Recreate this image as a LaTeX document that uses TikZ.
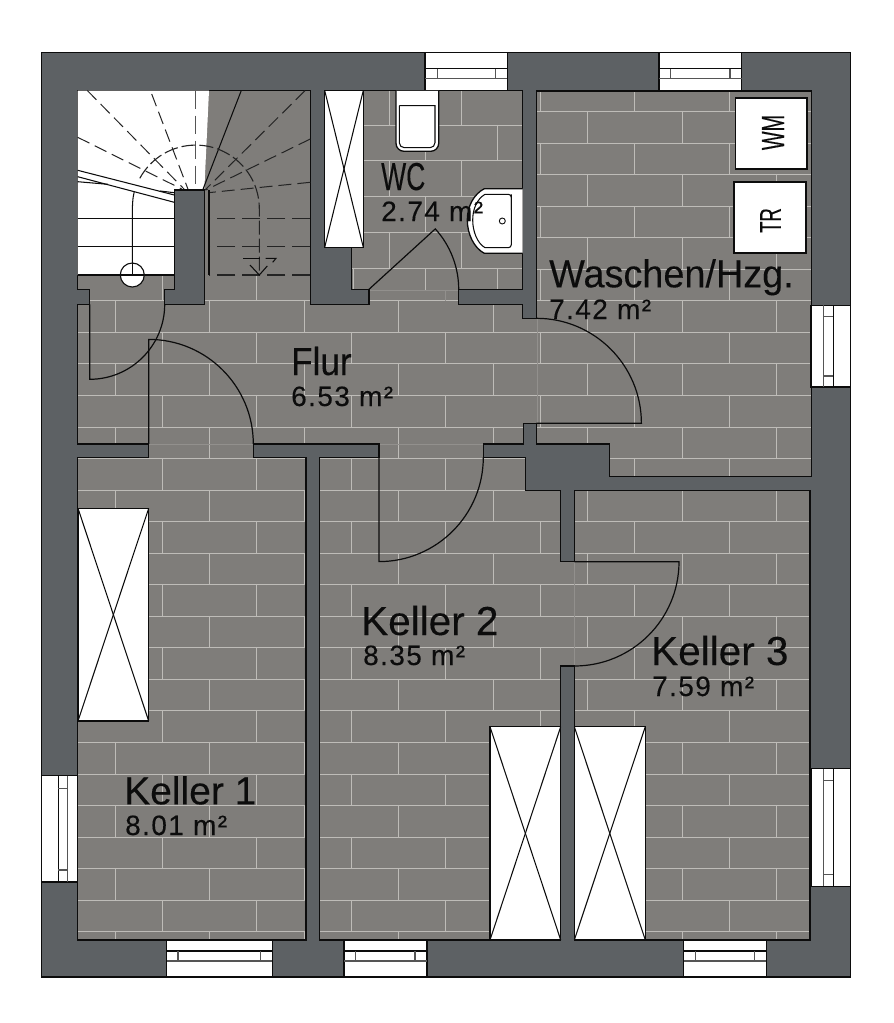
\documentclass[tikz,border=0pt]{standalone}
\usepackage{fontspec}
\setmainfont[FakeBold=0.15]{Liberation Sans}
\newfontfamily\areafont[LetterSpace=5,FakeBold=0.1]{Liberation Sans}
\definecolor{floorc}{RGB}{127,125,122}
\definecolor{wallc}{RGB}{93,97,100}
\definecolor{groutc}{RGB}{190,188,184}
\definecolor{faintc}{RGB}{146,144,141}
\definecolor{inkc}{RGB}{12,12,12}
\tikzset{
  wallpen/.style={draw=inkc,line width=1.3pt,fill=wallc},
  grout/.style={draw=groutc,line width=0.9pt},
  faint/.style={draw=faintc,line width=0.8pt},
  whitebox/.style={draw=inkc,line width=1.3pt,fill=white},
  thinline/.style={draw=inkc,line width=1.05pt},
  winline/.style={draw=inkc!70!white,line width=1.1pt},
  dashr/.style={draw=inkc!90!white,line width=1pt,dash pattern=on 13pt off 6pt},
  dashh/.style={draw=inkc!90!white,line width=1.1pt,dash pattern=on 18pt off 7pt},
  doorline/.style={draw=inkc,line width=1.2pt},
  roomname/.style={anchor=base west,inner sep=0pt,font=\fontsize{39}{39}\selectfont,text=inkc},
  roomnamebig/.style={roomname,font=\fontsize{40.5}{40}\selectfont},
  roomarea/.style={anchor=base west,inner sep=0pt,font=\areafont\fontsize{28}{28}\selectfont,text=inkc},
}
\begin{document}
\begin{tikzpicture}[x=1pt,y=-1pt]
\useasboundingbox (0,0) rectangle (894,1023);
% floor
\fill[floorc] (41.5,52.5) rectangle (850.5,977);
% global bricks
\begin{scope}
\clip (41.5,52.5) rectangle (850.5,977);
\foreach \k in {-8,...,20}{
  \pgfmathsetmacro{\ya}{332.3+31.55*\k}
  \pgfmathsetmacro{\yb}{\ya+31.55}
  \draw[grout] (41.5,\ya) -- (850.5,\ya);
  \pgfmathsetmacro{\off}{iseven(\k)?162.3:115.3}
  \foreach \n in {-1,...,8}{
    \pgfmathsetmacro{\xa}{\off+94.5*\n}
    \draw[grout] (\xa,\ya) -- (\xa,\yb);
  }
}
\end{scope}
% stair room without bricks
\fill[floorc] (77,90) rectangle (311,275);
% WC with its own bricks
\fill[floorc] (324,90) rectangle (523.5,300);
\foreach \y in {125,160.7,196.7,232.3,268.3}{\draw[grout] (324,\y) -- (523,\y);}
\foreach \x in {389.3,461.7}{\draw[grout] (\x,91) -- (\x,125);\draw[grout] (\x,160.7) -- (\x,196.7);\draw[grout] (\x,232.3) -- (\x,268.3);}
\foreach \x in {425.5,497.3}{\draw[grout] (\x,125) -- (\x,160.7);\draw[grout] (\x,196.7) -- (\x,232.3);\draw[grout] (\x,268.3) -- (\x,290);}
\draw[grout] (353.3,268.3) -- (353.3,290);
\draw[faint] (369,290) -- (459,290);
\draw[faint] (445.7,290) -- (445.7,300.7);
% faint lines in door openings
\draw[faint] (537,318.3) -- (537,423.3);
\draw[faint] (148.7,444.5) -- (253.3,444.5);
\draw[faint] (379,444.5) -- (483.3,444.5);
\draw[faint] (574.3,561.7) -- (574.3,665);
% walls
\path[wallpen,even odd rule]
  (41.5,52.5) rectangle (850.5,977)
  (77.7,90.5) -- (310.3,90.5) -- (310.3,304.3) -- (369,304.3) -- (369,289.3) -- (351.3,289.3) -- (351.3,247.3)
  -- (324.7,247.3) -- (324.7,90.5) -- (522.7,90.5) -- (522.7,289.3) -- (458.7,289.3) -- (458.7,304.3)
  -- (522.7,304.3) -- (522.7,318.3) -- (536.4,318.3) -- (536.4,91) -- (811.3,91) -- (811.3,476.7)
  -- (609.3,476.7) -- (609.3,444) -- (536.4,444) -- (536.4,423.3) -- (523.3,423.3) -- (523.3,444)
  -- (483.3,444) -- (483.3,457.3) -- (525.3,457.3) -- (525.3,490.3) -- (560.7,490.3) -- (560.7,561.7)
  -- (574.3,561.7) -- (574.3,490.3) -- (810,490.3) -- (810,940) -- (574.3,940) -- (574.3,666)
  -- (560.7,666) -- (560.7,940) -- (319.7,940) -- (319.7,457.3) -- (379,457.3) -- (379,444)
  -- (253.3,444) -- (253.3,457.3) -- (306,457.3) -- (306,940) -- (77.7,940) -- (77.7,457.3)
  -- (148.7,457.3) -- (148.7,444) -- (77.7,444) -- (77.7,304.3) -- (89.7,304.3) -- (89.7,289.3)
  -- (77.7,289.3) -- cycle;
% stair
\fill[white] (77.7,90.5) -- (209,90.5) -- (204.3,190) -- (174.3,190) -- (174.3,275) -- (77.7,275) -- cycle;
\draw[thinline] (77.7,275) -- (174.3,275);
\draw[thinline] (77.7,218.3) -- (174.3,218.3);
\draw[thinline] (77.7,246.7) -- (174.3,246.7);
\draw[thinline] (77.7,170.3) -- (174.3,195);
\draw[thinline] (77.7,176.7) -- (174.3,202.3);
\draw[thinline] (77.7,181.7) -- (108,184.3);
\draw[thinline] (160,191) -- (174.3,192.7);
\draw[thinline] (132.3,275) -- (132.3,218) .. controls (132.3,205) and (132.6,198) .. (134.3,191.5);
\draw[draw=inkc,line width=1.1pt,fill=white] (132.3,275) circle[radius=12pt];
\draw[thinline] (120.3,275) -- (144.3,275);
\draw[thinline] (132.3,263) -- (132.3,275);
\draw[thinline] (241.3,90.5) -- (202.7,190);
\draw[draw=inkc!70!white,line width=1.2pt,dash pattern=on 18pt off 7pt] (195.7,90.5) -- (195.7,190);
\draw[dashr] (151.7,94) -- (188.3,190);
\draw[dashr] (87.3,90.5) -- (185,190);
\draw[dashr] (77.7,137.3) -- (181.7,189);
\draw[dashr] (305,90.7) -- (205,190);
\draw[dashr] (310.3,139) -- (205.7,190);
\draw[dashr] (310.3,182.3) -- (208.3,192.7);
\draw[dashh] (310.3,218.3) -- (209,218.3);
\draw[dashh] (310.3,246.7) -- (209,246.7);
\draw[dashh] (310.3,275) -- (209,275);
\draw[draw=inkc!90!white,line width=1.1pt,dash pattern=on 14pt off 4pt]
  (139.8,178.3) .. controls (151,157.8) and (172.4,145.1) .. (195.7,145.1)
  .. controls (230.8,145.1) and (259.3,173.6) .. (259.3,208.7) -- (259.3,275);
\draw[thinline] (243.3,258.3) -- (260,258.3);
\draw[thinline] (265.7,258.3) -- (276,258.3) -- (272.7,262.3);
\draw[thinline] (250,265) -- (259.3,275) -- (267.3,266);
\path[wallpen] (174.3,190) -- (204.3,190) -- (204.3,304.3) -- (164.3,304.3) -- (164.3,289.3) -- (174.3,289.3) -- cycle;
\draw[line width=1.4pt,draw=inkc] (209,190) -- (209,275);
% closets
\foreach \xa/\ya/\xb/\yb in {324.7/90.5/363.3/247.3, 78/508.3/148.7/721, 490/726.7/560.7/940, 574.3/726.7/645.3/940}{
  \path[whitebox] (\xa,\ya) rectangle (\xb,\yb);
  \draw[thinline] (\xa,\ya) -- (\xb,\yb);
  \draw[thinline] (\xb,\ya) -- (\xa,\yb);
}
% windows top
\foreach \xa/\xb/\xc/\xd in {425/507.3/437.3/495.7, 659/741.7/670.7/730}{
  \path[whitebox] (\xa,52.5) rectangle (\xb,90.8);
  \draw[thinline] (\xa,68.5) -- (\xb,68.5);
  \draw[winline] (\xa,78.3) -- (\xb,78.3);
  \draw[winline] (\xc,68.5) -- (\xc,78.3);
  \draw[winline] (\xd,68.5) -- (\xd,78.3);
}
% windows bottom
\foreach \xa/\xb/\xc/\xd in {166.7/272.3/178/260.3, 344/427/355.7/415, 683.7/766.3/695.3/754.3}{
  \path[whitebox] (\xa,940) rectangle (\xb,977);
  \draw[thinline] (\xa,951) -- (\xb,951);
  \draw[winline] (\xa,961) -- (\xb,961);
  \draw[winline] (\xc,951) -- (\xc,961);
  \draw[winline] (\xd,951) -- (\xd,961);
}
% windows left
\path[whitebox] (41.5,775.7) rectangle (77.7,882);
\draw[thinline] (58.3,775.7) -- (58.3,882);
\draw[winline] (67.7,775.7) -- (67.7,882);
\draw[winline] (58.3,788.3) -- (67.7,788.3);
\draw[winline] (58.3,870) -- (67.7,870);
% windows right
\foreach \ya/\yb/\yc/\yd in {305.3/387/316.7/376, 768.7/886.3/780.3/874.7}{
  \path[whitebox] (811,\ya) rectangle (850.5,\yb);
  \draw[winline] (823.7,\ya) -- (823.7,\yb);
  \draw[thinline] (833.3,\ya) -- (833.3,\yb);
  \draw[winline] (823.7,\yc) -- (833.3,\yc);
  \draw[winline] (823.7,\yd) -- (833.3,\yd);
}
% machines
\node[whitebox,minimum width=71.3pt,minimum height=71pt,inner sep=0pt,anchor=north west] (wmbox) at (735,97.3) {};
\node[whitebox,minimum width=72pt,minimum height=71pt,inner sep=0pt,anchor=north west] (trbox) at (733.3,181.3) {};
\node[rotate=90,inner sep=0pt,font=\fontsize{32}{32}\selectfont,text=inkc,xscale=.62,transform shape] (wmlabel) at (773,132.5) {WM};
\node[rotate=90,inner sep=0pt,font=\fontsize{30}{30}\selectfont,text=inkc,xscale=.62,transform shape] (trlabel) at (770.5,220.5) {TR};
% toilet
\path[whitebox,rounded corners=8pt] (396,90.8) -- (396,151.3) -- (438.7,151.3) -- (438.7,90.8);
\draw[thinline] (399.3,105.7) -- (435,105.7) [rounded corners=5pt] -- (435,147.7) -- (399.3,147.7) -- (399.3,105.7);
% sink
\path[whitebox] (522.7,188.7) -- (484.3,188.7) .. controls (474,194) and (467.3,206) .. (467.3,220) .. controls (467.3,234) and (474,248) .. (484.3,253.3) -- (522.7,253.3);
\draw[thinline,rounded corners=3pt] (511.3,194.3) -- (511.3,247.7) -- (485,247.7);
\draw[thinline,rounded corners=3pt] (485,194.3) -- (511.3,194.3) -- (511.3,210);
\draw[thinline] (485,194.3) .. controls (477,199) and (472.7,209) .. (472.7,220) .. controls (472.7,231) and (477,243) .. (485,247.7);
\draw[draw=inkc,line width=0.9pt] (502.3,221) circle[radius=3pt];
% doors
\draw[doorline] (89.7,304.3) -- (89.7,379.3) .. controls (131.1,379.3) and (164.7,345.7) .. (164.7,304.3);
\draw[doorline] (148.7,444) -- (148.7,339.4) .. controls (206.5,339.4) and (253.3,386.2) .. (253.3,444);
\draw[doorline] (379,457.3) -- (379,561.6) .. controls (436.6,561.6) and (483.3,514.9) .. (483.3,457.3);
\draw[doorline] (536.4,318.3) .. controls (594.4,318.3) and (641.4,365.3) .. (641.4,423.3) -- (536.4,423.3);
\draw[doorline] (574.3,561.7) -- (679,561.7) .. controls (679,619.5) and (632.1,666) .. (574.3,666);
\draw[doorline] (369,289.3) -- (435.3,228.9) .. controls (450.3,245.4) and (458.7,267) .. (458.7,289.3);
% labels
\node[roomname,xscale=.68,transform shape] (wc) at (381,190) {WC};
\node[roomarea] (wcarea) at (381,221) {2.74 m²};
\node[roomname,xscale=.9,transform shape] (flur) at (291,375) {Flur};
\node[roomarea] (flurarea) at (291,406) {6.53 m²};
\node[roomname,xscale=.97,transform shape] (wasch) at (549,287.3) {Waschen/Hzg.};
\node[roomarea] (waschareaa) at (549,319) {7.42 m²};
\node[roomname] (k1) at (124,804.3) {Keller 1};
\node[roomarea] (k1area) at (125,835) {8.01 m²};
\node[roomnamebig] (k2) at (361,635) {Keller 2};
\node[roomarea] (k2area) at (363,665) {8.35 m²};
\node[roomnamebig] (k3) at (651,665) {Keller 3};
\node[roomarea] (k3area) at (652,696) {7.59 m²};
\end{tikzpicture}
\end{document}
